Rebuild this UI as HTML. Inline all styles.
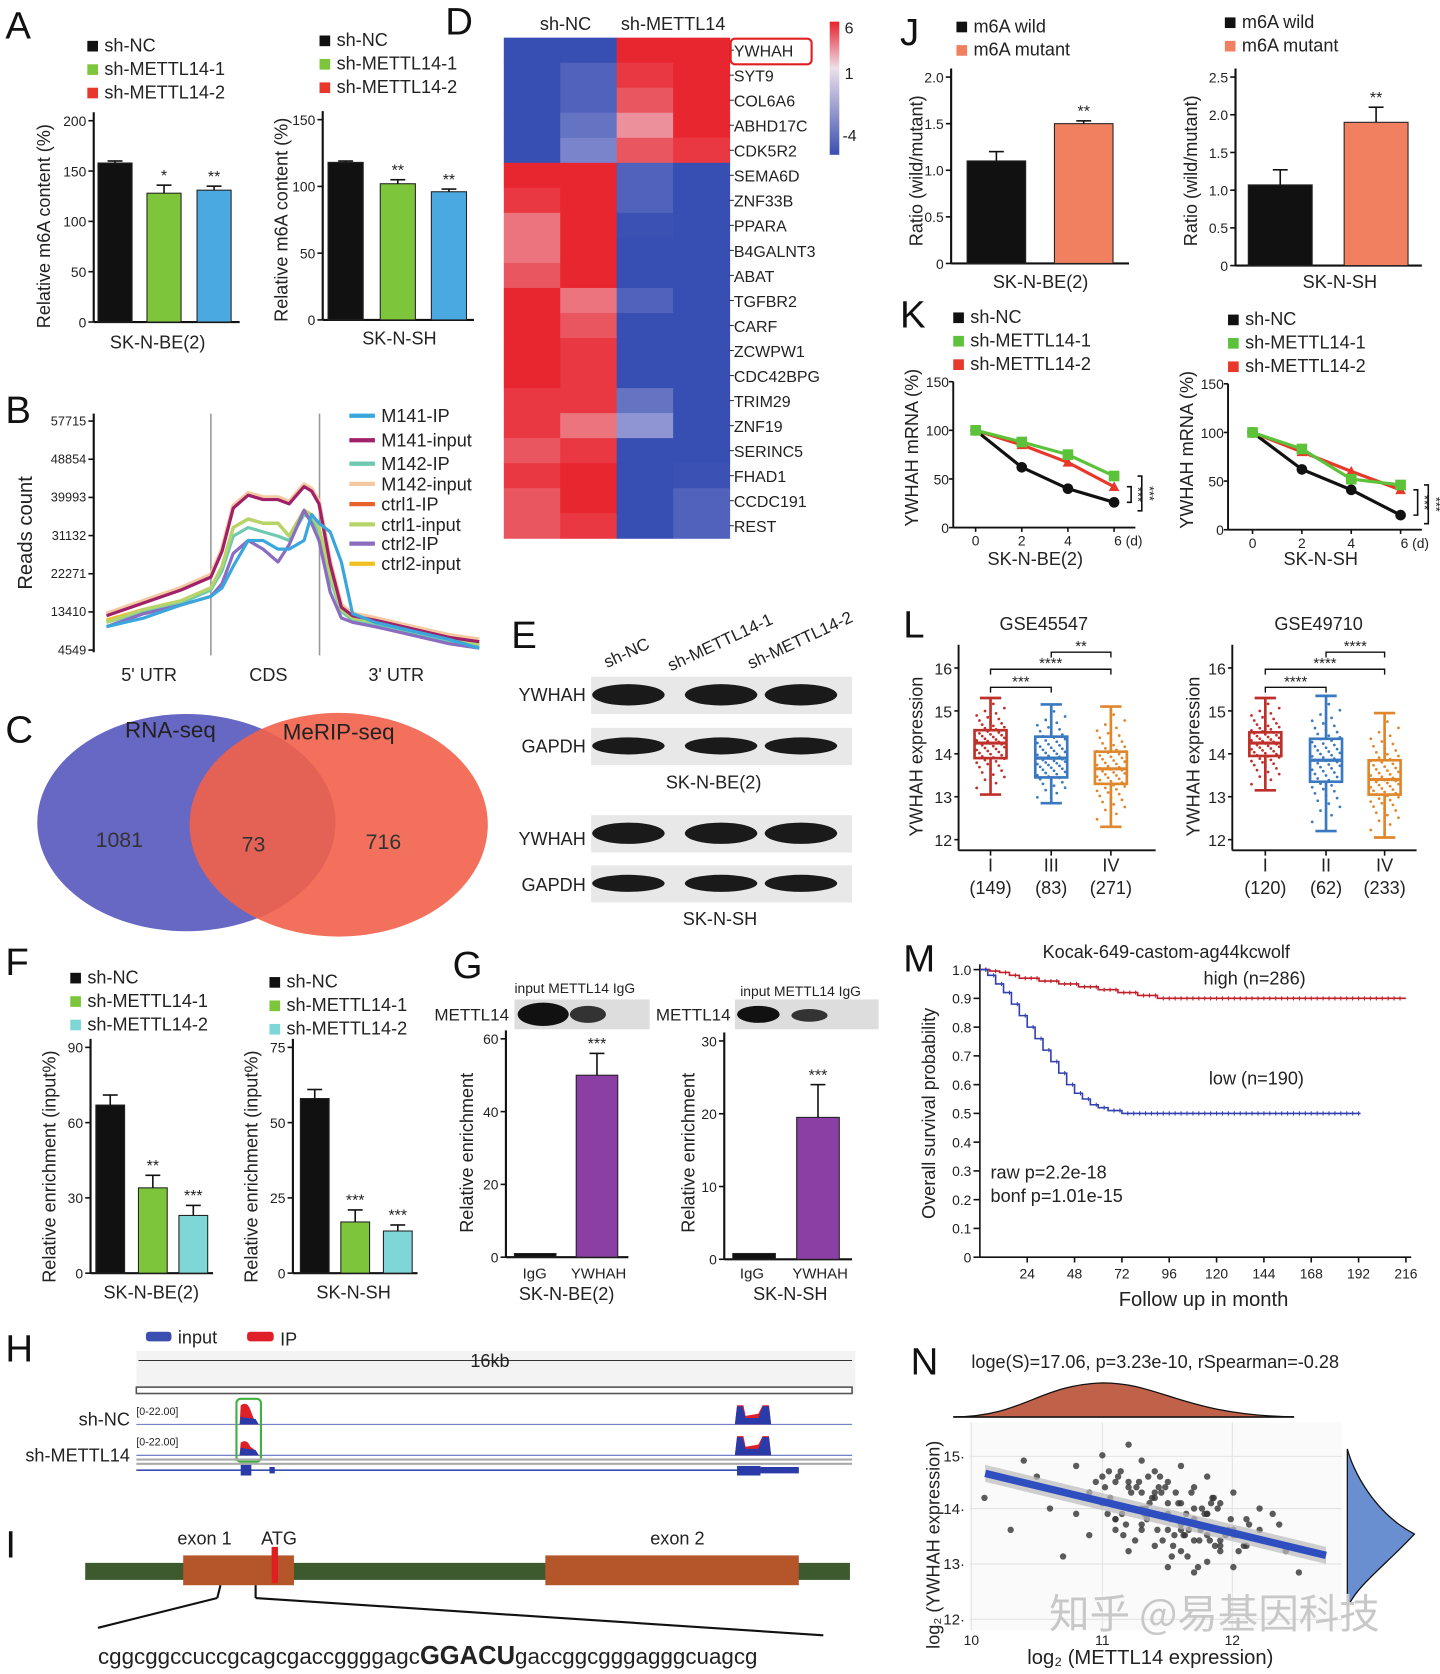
<!DOCTYPE html>
<html><head><meta charset="utf-8"><style>
html,body{margin:0;padding:0;background:#fff;}
svg{display:block;font-family:"Liberation Sans","Noto Sans CJK SC",sans-serif;}
</style></head><body>
<svg id="fig" width="1440" height="1674" viewBox="0 0 1352 1571" xmlns="http://www.w3.org/2000/svg"></svg>
<script>
// ---------------- DATA ----------------
const aCats=["sh-NC","sh-METTL14-1","sh-METTL14-2"];
const aBE=[158,128,131], aBEerr=[2,8,4];
const aSH=[118,102,96], aSHerr=[1,3,2];
const bPos=[0,10,20,28,31,34,38,42,46,49,53,55,57,60,63,66,72,82,92,100];
const bNames=["M141-IP","M141-input","M142-IP","M142-input","ctrl1-IP","ctrl1-input","ctrl2-IP","ctrl2-input"];
const bM141IP=[10,12,15,17,19,24,30,30,28,28,30,36,34,32,25,13,11,9,7,5];
const bM141in=[12.5,15.5,18.5,21.5,27.5,37.5,40.5,39.5,39.5,38.5,42.5,41.5,38.5,24.5,14.5,12.5,11.5,9.5,7.5,6.5];
const bM142IP=[11,13.5,15.5,18.5,23,31,33,32,31,30,36,35,32,21,13.5,11.5,10.5,8.5,6.5,5.5];
const bM142in=[13,16,19,22,28,38,41,40,40,39,43,42,39,25,15,13,12,10,8,7];
const bC1IP=[11.5,14,16,19,24,33,35,34,34,31,37,36,33,22,14,12,11,9,7,6];
const bC1in=[11,14,16,19,24,33,35,34,34,31,37,36,33,22,14,12,11,9,7,6];
const bC2IP=[10,13,15,17,20,27,30,28,25,29,37,34,30,18,12,11,10,8,6,5];
const bC2in=[11.5,14,16,19,24,33,35,34,34,31,37,36,33,22,14,12,11,9,7,6];
const bTicks=[4549,13410,22271,31132,39993,48854,57715];
const vennCounts=[1081,73,716];
const genes=["YWHAH","SYT9","COL6A6","ABHD17C","CDK5R2","SEMA6D","ZNF33B","PPARA","B4GALNT3","ABAT","TGFBR2","CARF","ZCWPW1","CDC42BPG","TRIM29","ZNF19","SERINC5","FHAD1","CCDC191","REST"];
const heat=[[-3.5,-3,4,4.5],[-3,-2,3.5,4],[-3,-2,3,4],[-3,-1.5,2,5],[-3,-1,3,3.5],[4,4,-2,-3],[3.5,4,-2,-3],[2.5,4,-2.5,-3],[2.5,4.5,-3,-3],[3,4,-3,-3],[4,2.5,-2,-3],[4,3,-3,-3],[4,3.5,-3,-3],[4,3.5,-3,-3],[3.5,3.5,-1.5,-3],[3.5,2.5,-0.5,-3],[3,3.5,-3,-3],[3.5,4,-3,-2.5],[3,4,-3,-2],[3,3.5,-3,-2]];
const fBE=[67,34,23], fBEerr=[4,5,4];
const fSH=[58,17,14], fSHerr=[3,4,2];
const gBE=[1,50], gBEerr=[0,6];
const gSH=[0.8,19.5], gSHerr=[0,4.5];
const jBE=[1.1,1.5], jBEerr=[0.1,0.03];
const jSH=[1.07,1.9], jSHerr=[0.2,0.2];
const kDays=[0,2,4,6];
const kBE_NC=[100,62,40,26], kBE_1=[100,88,75,53], kBE_2=[100,85,67,42];
const kSH_NC=[100,62,41,15], kSH_1=[100,83,52,46], kSH_2=[100,80,60,41];
const l1Groups=["I","III","IV"], l1N=["(149)","(83)","(271)"];
const l1Stats=[[13.05,13.9,14.25,14.55,15.3],[12.85,13.45,13.9,14.4,15.15],[12.3,13.3,13.65,14.05,15.1]];
const l2Groups=["I","II","IV"], l2N=["(120)","(62)","(233)"];
const l2Stats=[[13.15,13.95,14.25,14.5,15.3],[12.2,13.35,13.85,14.35,15.35],[12.05,13.05,13.4,13.85,14.95]];
const mHighT=[0,5,10,15,20,30,40,50,60,70,80,90,216];
const mHighS=[1,0.995,0.99,0.98,0.97,0.96,0.95,0.94,0.93,0.92,0.91,0.9,0.9];
const mLowT=[0,4,8,12,16,20,24,28,32,36,40,44,48,52,56,60,65,72,193];
const mLowS=[1,0.98,0.95,0.92,0.88,0.84,0.8,0.76,0.72,0.68,0.64,0.6,0.57,0.55,0.53,0.52,0.51,0.5,0.5];
const nX=[10.1,10.3,10.5,10.6,10.7,10.8,10.9,10.9,11.0,11.0,11.1,11.1,11.2,11.2,11.2,11.3,11.3,11.3,11.4,11.4,11.4,11.5,11.5,11.5,11.6,11.6,11.6,11.7,11.7,11.7,11.8,11.8,11.8,11.9,11.9,12.0,12.0,12.1,12.1,12.2,12.3,12.4,12.5,10.4,10.8,11.0,11.1,11.2,11.3,11.4,11.5,11.6,11.7,11.8,11.9,12.0,11.05,11.25,11.45,11.65,11.85,11.15,11.35,11.55,11.75,10.95,12.2,12.35,
 11.02,11.08,11.12,11.18,11.22,11.28,11.32,11.38,11.42,11.48,11.52,11.58,11.62,11.68,11.72,11.78,11.82,11.88,11.92,11.98,12.02,12.08,12.12,11.04,11.14,11.24,11.34,11.44,11.54,11.64,11.74,11.84,11.94,12.04,11.06,11.16,11.26,11.36,11.46,11.56,11.66,11.76,11.86,11.96,11.1,11.3,11.5,11.7,11.9,11.2,11.4,11.6,11.8,12.0,11.33,11.53,11.73,11.43,11.63,11.83];
const nY=[14.2,13.6,14.6,14.0,13.1,14.8,14.3,13.5,15.0,14.1,14.5,13.8,15.2,14.4,13.2,14.9,14.0,13.6,14.7,14.2,13.3,14.5,13.9,12.9,14.8,13.7,13.2,14.4,13.8,12.8,14.6,13.5,13.0,14.1,13.4,14.3,12.9,13.8,13.3,13.6,13.9,13.2,12.8,14.9,13.9,14.6,13.6,14.0,14.3,13.9,14.1,13.6,14.0,13.9,13.2,13.5,14.7,13.4,14.3,13.1,14.2,13.9,14.6,13.5,13.6,14.5,14.0,13.7,
 14.4,14.1,14.6,13.7,14.3,14.5,13.9,14.2,13.6,14.4,13.8,14.1,13.5,14.3,13.7,13.9,13.4,14.0,13.6,13.8,13.5,13.3,13.7,13.9,14.7,14.0,13.8,14.6,13.3,13.9,13.4,14.2,13.5,13.2,14.2,13.5,14.4,14.1,13.4,14.3,13.6,14.0,13.3,13.6,13.8,13.7,13.6,13.4,13.3,14.5,14.3,14.1,13.9,13.6,14.0,13.1,12.9,14.4,13.5,14.1];

// ---------------- HELPERS ----------------
const NS="http://www.w3.org/2000/svg";
const svg=document.getElementById('fig');
function mk(tag,attrs,name,parent){
  const e=document.createElementNS(NS,tag);
  for(const k in attrs) e.setAttribute(k,attrs[k]);
  
  
  (parent||svg).appendChild(e);
  return e;
}
function txt(x,y,s,size,name,opt){
  opt=opt||{};
  const a={x:x,y:y,'font-size':size,fill:opt.fill||'#222'};
  if(opt.anchor) a['text-anchor']=opt.anchor;
  if(opt.rot!==undefined) a.transform=`rotate(${opt.rot} ${x} ${y})`;
  if(opt.weight) a['font-weight']=opt.weight;
  if(opt.family) a['font-family']=opt.family;
  const e=mk('text',a,name,opt.parent);
  e.textContent=s;return e;
}
function line(x1,y1,x2,y2,name,stroke,w){return mk('line',{x1,y1,x2,y2,stroke:stroke||'#111','stroke-width':w||1.5},name);}
function rect(x,y,w,h,fill,name,extra){const a={x,y,width:w,height:h,fill};Object.assign(a,extra||{});return mk('rect',a,name);}
function letter(x,y,s){txt(x,y,s,36,'panel-label-'+s.toLowerCase(),{fill:'#111'});}
function legendSq(x,y,labels,colors,size,prefix){
  labels.forEach((l,i)=>{
    rect(x,y+i*22-10,10,10,colors[i],prefix+'-swatch-'+i);
    txt(x+16,y+i*22,l,size||17,prefix+'-label-'+i);
  });
}
function barChart(o){
  const yS=v=>o.y0-(v/o.max)*(o.y0-o.ytop);
  line(o.ax,o.ytop-8,o.ax,o.y0,o.name+'-y-axis','#111',2);
  line(o.ax,o.y0,o.xend,o.y0,o.name+'-x-axis','#111',2);
  o.ticks.forEach((t,i)=>{const y=yS(t);line(o.ax-5,y,o.ax,y,o.name+'-tick-'+i);txt(o.ax-7,y+5,o.tickFmt?o.tickFmt(t):String(t),13,o.name+'-tick-label-'+i,{anchor:'end'});});
  o.vals.forEach((v,i)=>{
    const x=o.xs[i];
    rect(x,yS(v),o.w,o.y0-yS(v),o.colors[i],o.name+'-bar-'+i,{stroke:'#222','stroke-width':1});
    const e=o.errs[i]; if(e>0){const cx=x+o.w/2;line(cx,yS(v),cx,yS(v+e),o.name+'-err-'+i,'#111',1.5);line(cx-7,yS(v+e),cx+7,yS(v+e),o.name+'-errcap-'+i,'#111',1.5);}
    if(o.stars&&o.stars[i]) txt(x+o.w/2,yS(v+e)-4,o.stars[i],15,o.name+'-sig-'+i,{anchor:'middle'});
  });
}

// ---------------- PANEL A ----------------
letter(5,36,'A');
legendSq(82,48,aCats,['#111','#7dc63b','#e8382b'],17,'a-legend-1');
legendSq(300,43,aCats,['#111','#7dc63b','#e8382b'],17,'a-legend-2');
barChart({name:'a-be2',ax:88,y0:302,ytop:113,max:200,xend:225,ticks:[0,50,100,150,200],vals:aBE,errs:aBEerr,colors:['#111','#7dc63b','#4aa9e0'],xs:[92,138,185],w:32,stars:['','*','**']});
txt(148,327,'SK-N-BE(2)',17,'a-be2-x-label',{anchor:'middle'});
txt(47,212,'Relative m6A content (%)',17,'a-be2-y-title',{anchor:'middle',rot:-90});
barChart({name:'a-sh',ax:303,y0:300,ytop:112,max:150,xend:445,ticks:[0,50,100,150],vals:aSH,errs:aSHerr,colors:['#111','#7dc63b','#4aa9e0'],xs:[308,357,405],w:33,stars:['','**','**']});
txt(375,323,'SK-N-SH',17,'a-sh-x-label',{anchor:'middle'});
txt(270,206,'Relative m6A content (%)',17,'a-sh-y-title',{anchor:'middle',rot:-90});

// ---------------- PANEL B ----------------
letter(5,397,'B');
(function(){
  const yB=v=>610-(v-4549)/(57715-4549)*215, xB=p=>100+p*3.5;
  line(88,388,88,612,'b-y-axis','#111',2);
  bTicks.forEach((t,i)=>{line(83,yB(t),88,yB(t),'b-tick-'+i);txt(81,yB(t)+4,String(t),12,'b-tick-label-'+i,{anchor:'end'});});
  line(198,388,198,615,'b-cds-start-line','#999',1.5);
  line(300,388,300,615,'b-cds-end-line','#999',1.5);
  txt(140,639,"5' UTR",17,'b-label-5utr',{anchor:'middle'});
  txt(252,639,'CDS',17,'b-label-cds',{anchor:'middle'});
  txt(372,639,"3' UTR",17,'b-label-3utr',{anchor:'middle'});
  txt(30,500,'Reads count',19,'b-y-title',{anchor:'middle',rot:-90});
  const series=[bM142in,bC1IP,bC2in,bM142IP,bC1in,bM141in,bC2IP,bM141IP];
  const sNames=["M142-input","ctrl1-IP","ctrl2-input","M142-IP","ctrl1-input","M141-input","ctrl2-IP","M141-IP"];
  const cols={"M141-IP":"#3aa6dd","M141-input":"#a0206a","M142-IP":"#6fc9b0","M142-input":"#f5c9a0","ctrl1-IP":"#e8622a","ctrl1-input":"#b5d56a","ctrl2-IP":"#8a6cc0","ctrl2-input":"#f0c020"};
  series.forEach((s,k)=>{
    const d=s.map((v,i)=>(i?'L':'M')+xB(bPos[i]).toFixed(1)+','+yB(v*1000).toFixed(1)).join('');
    mk('path',{d:d,fill:'none',stroke:cols[sNames[k]],'stroke-width':k==0?4:3,'stroke-linejoin':'round'},'b-line-'+sNames[k].toLowerCase());
  });
  const ly=[396,419,441,460,479,498,516,535];
  bNames.forEach((n,i)=>{line(328,ly[i]-6,352,ly[i]-6,'b-legend-swatch-'+i,cols[n],4);txt(358,ly[i],n,17,'b-legend-label-'+i);});
})();

// ---------------- PANEL C ----------------
letter(5,697,'C');
mk('ellipse',{cx:175,cy:772,rx:140,ry:102,fill:'#6767c4'},'c-venn-rna-seq');
mk('ellipse',{cx:318,cy:774,rx:140,ry:105,fill:'#f2604a','fill-opacity':0.9},'c-venn-merip-seq');
txt(160,692,'RNA-seq',21,'c-title-rna-seq',{anchor:'middle'});
txt(318,694,'MeRIP-seq',21,'c-title-merip-seq',{anchor:'middle'});
txt(112,795,String(vennCounts[0]),20,'c-count-rna-only',{anchor:'middle',fill:'#333'});
txt(238,799,String(vennCounts[1]),20,'c-count-overlap',{anchor:'middle',fill:'#333'});
txt(360,797,String(vennCounts[2]),20,'c-count-merip-only',{anchor:'middle',fill:'#333'});

// ---------------- PANEL D ----------------
letter(418,32,'D');
(function(){
  const x0=473,y0=35,cw=53,rh=23.5;
  function col(v){
    const lerp=(a,b,t)=>Math.round(a+(b-a)*t);
    let c;
    if(v>=1){const t=Math.min(1,(v-1)/2.8);c=[lerp(238,232,t),lerp(205,38,t),lerp(215,48,t)];}
    else{const t=Math.min(1,(1-v)/3.6);c=[lerp(205,55,t),lerp(200,78,t),lerp(235,178,t)];}
    return `rgb(${c[0]},${c[1]},${c[2]})`;
  }
  heat.forEach((row,r)=>row.forEach((v,c)=>{rect(x0+c*cw,y0+r*rh,cw+0.5,rh+0.5,col(v),'d-cell-'+genes[r].toLowerCase()+'-'+c);}));
  genes.forEach((g,r)=>{line(x0+4*cw,y0+r*rh+rh/2,x0+4*cw+4,y0+r*rh+rh/2,'d-gene-tick-'+r,'#333',1);txt(689,y0+r*rh+rh/2+6,g,15,'d-gene-label-'+g.toLowerCase());});
  rect(686,36,76,24,'none','d-highlight-ywhah',{stroke:'#e02020','stroke-width':2,rx:4});
  txt(531,28,'sh-NC',17,'d-col-header-nc',{anchor:'middle'});
  txt(632,28,'sh-METTL14',17,'d-col-header-mettl14',{anchor:'middle'});
  const g=mk('linearGradient',{id:'hg',x1:0,y1:0,x2:0,y2:1},'d-scale-gradient',mk('defs',{},'d-defs'));
  [['0','#e8202a'],['0.35','#ece0ea'],['1','#3a4fb0']].forEach((s,i)=>mk('stop',{offset:s[0],'stop-color':s[1]},'d-grad-stop-'+i,g));
  rect(779,20,9,125,'url(#hg)','d-color-scale');
  txt(793,31,'6',15,'d-scale-label-6');txt(793,74,'1',15,'d-scale-label-1');txt(791,132,'-4',15,'d-scale-label-neg4');
})();

// ---------------- PANEL E ----------------
letter(480,608,'E');
(function(){
  txt(570,627,'sh-NC',16,'e-lane-label-nc',{rot:-25});
  txt(630,630,'sh-METTL14-1',16,'e-lane-label-1',{rot:-25});
  txt(705,628,'sh-METTL14-2',16,'e-lane-label-2',{rot:-25});
  const rows=[['YWHAH',652,635],['GAPDH',700,683],['YWHAH',787,765],['GAPDH',830,812]];
  rows.forEach((r,i)=>{
    txt(550,r[1]+6,r[0],17,'e-blot-label-'+i,{anchor:'end'});
    rect(555,r[2],245,35,'#e8e8e8','e-blot-bg-'+i);
    [590,677,752].forEach((x,j)=>mk('ellipse',{cx:x,cy:r[2]+17,rx:34,ry:(i%2?8:10),fill:'#1a1a1a'},'e-band-'+i+'-'+j));
  });
  txt(670,740,'SK-N-BE(2)',17,'e-cell-label-be2',{anchor:'middle'});
  txt(676,868,'SK-N-SH',17,'e-cell-label-sh',{anchor:'middle'});
})();

// ---------------- PANEL F ----------------
letter(5,915,'F');
legendSq(66,923,aCats,['#111','#7dc63b','#7fd6d6'],17,'f-legend-1');
legendSq(253,927,aCats,['#111','#7dc63b','#7fd6d6'],17,'f-legend-2');
barChart({name:'f-be2',ax:85,y0:1195,ytop:983,max:90,xend:200,ticks:[0,30,60,90],vals:fBE,errs:fBEerr,colors:['#111','#7dc63b','#7fd6d6'],xs:[90,130,168],w:27,stars:['','**','***']});
txt(142,1219,'SK-N-BE(2)',17,'f-be2-x-label',{anchor:'middle'});
txt(52,1095,'Relative enrichment (input%)',17,'f-be2-y-title',{anchor:'middle',rot:-90});
barChart({name:'f-sh',ax:275,y0:1195,ytop:983,max:75,xend:392,ticks:[0,25,50,75],vals:fSH,errs:fSHerr,colors:['#111','#7dc63b','#7fd6d6'],xs:[282,320,360],w:27,stars:['','***','***']});
txt(332,1219,'SK-N-SH',17,'f-sh-x-label',{anchor:'middle'});
txt(242,1095,'Relative enrichment (input%)',17,'f-sh-y-title',{anchor:'middle',rot:-90});

// ---------------- PANEL G ----------------
letter(425,918,'G');
txt(483,932,'input  METTL14 IgG',13,'g-blot-header-1');
txt(695,935,'input  METTL14 IgG',13,'g-blot-header-2');
txt(478,958,'METTL14',16,'g-blot-label-1',{anchor:'end'});
txt(686,958,'METTL14',16,'g-blot-label-2',{anchor:'end'});
rect(483,938,127,28,'#ddd','g-blot-bg-1');rect(690,938,135,28,'#ddd','g-blot-bg-2');
mk('ellipse',{cx:510,cy:952,rx:24,ry:11,fill:'#111'},'g-band-input-1');
mk('ellipse',{cx:552,cy:952,rx:17,ry:8,fill:'#333'},'g-band-mettl14-1');
mk('ellipse',{cx:712,cy:952,rx:20,ry:8,fill:'#111'},'g-band-input-2');
mk('ellipse',{cx:760,cy:953,rx:17,ry:6,fill:'#333'},'g-band-mettl14-2');
barChart({name:'g-be2',ax:475,y0:1180,ytop:975,max:60,xend:590,ticks:[0,20,40,60],vals:gBE,errs:gBEerr,colors:['#111','#8b3fa5'],xs:[483,541],w:39,stars:['','***']});
txt(502,1200,'IgG',14,'g-be2-cat-igg',{anchor:'middle'});txt(562,1200,'YWHAH',14,'g-be2-cat-ywhah',{anchor:'middle'});
txt(532,1220,'SK-N-BE(2)',17,'g-be2-x-label',{anchor:'middle'});
txt(444,1082,'Relative enrichment',17,'g-be2-y-title',{anchor:'middle',rot:-90});
barChart({name:'g-sh',ax:680,y0:1182,ytop:977,max:30,xend:800,ticks:[0,10,20,30],vals:gSH,errs:gSHerr,colors:['#111','#8b3fa5'],xs:[688,748],w:40,stars:['','***']});
txt(706,1200,'IgG',14,'g-sh-cat-igg',{anchor:'middle'});txt(770,1200,'YWHAH',14,'g-sh-cat-ywhah',{anchor:'middle'});
txt(742,1220,'SK-N-SH',17,'g-sh-x-label',{anchor:'middle'});
txt(652,1082,'Relative enrichment',17,'g-sh-y-title',{anchor:'middle',rot:-90});

// ---------------- PANEL H ----------------
letter(5,1278,'H');
rect(137,1250,24,9,'#3a4fb0','h-legend-input-swatch',{rx:3});txt(167,1261,'input',17,'h-legend-input-label');
rect(232,1250,25,9,'#e02028','h-legend-ip-swatch',{rx:3});txt(263,1263,'IP',17,'h-legend-ip-label');
rect(128,1268,675,40,'#f3f3f3','h-track-header-bg');
line(130,1277,800,1277,'h-scale-line','#333',1);
txt(460,1283,'16kb',17,'h-scale-label',{anchor:'middle'});
rect(128,1302,672,6,'#fff','h-ruler',{stroke:'#555','stroke-width':1.5});
txt(122,1338,'sh-NC',17,'h-track-label-nc',{anchor:'end'});
txt(122,1372,'sh-METTL14',17,'h-track-label-mettl14',{anchor:'end'});
txt(128,1328,'[0-22.00]',10,'h-range-nc');txt(128,1357,'[0-22.00]',10,'h-range-mettl14');
line(128,1337,800,1337,'h-baseline-nc','#6070c0',1);line(128,1366,800,1366,'h-baseline-mettl14','#6070c0',1);
[[1337,18],[1366,12]].forEach((t,i)=>{
  mk('path',{d:`M225,${t[0]}L226,${t[0]-t[1]}Q232,${t[0]-t[1]-4} 235,${t[0]-t[1]+4}L238,${t[0]-6}L243,${t[0]}Z`,fill:'#e02028'},'h-peak-ip-exon1-'+i);
  mk('path',{d:`M225,${t[0]}L226,${t[0]-7}L240,${t[0]-5}L243,${t[0]}Z`,fill:'#2a3aa8'},'h-peak-input-exon1-'+i);
  mk('path',{d:`M690,${t[0]}L692,${t[0]-18}L698,${t[0]-18}L700,${t[0]-8}L712,${t[0]-10}L716,${t[0]-18}L722,${t[0]-18}L724,${t[0]}Z`,fill:'#e02028'},'h-peak-ip-exon2-'+i);
  mk('path',{d:`M690,${t[0]}L692,${t[0]-17}L697,${t[0]-17}L700,${t[0]-6}L712,${t[0]-6}L716,${t[0]-17}L722,${t[0]-17}L724,${t[0]}Z`,fill:'#2a3aa8'},'h-peak-input-exon2-'+i);
});
rect(222,1313,23,59,'none','h-highlight-box',{stroke:'#40b040','stroke-width':2,rx:4});
line(128,1370,800,1370,'h-sep-1','#aaa',2);line(128,1374,800,1374,'h-sep-2','#aaa',2);
line(128,1380,750,1380,'h-gene-intron','#3a4fb0',1.5);
rect(226,1375,10,10,'#2a3aa8','h-gene-exon1');rect(253,1377,5,6,'#2a3aa8','h-gene-small-exon');
rect(692,1376,22,9,'#2a3aa8','h-gene-exon2');rect(714,1377,36,6,'#2a3aa8','h-gene-utr');

// ---------------- PANEL I ----------------
letter(5,1462,'I');
rect(80,1467,718,16,'#3d5a2f','i-gene-bar');
rect(172,1460,104,28,'#b5562a','i-exon1');
rect(512,1460,238,28,'#b5562a','i-exon2');
rect(255,1452,6,34,'#e02020','i-atg-mark');
txt(192,1450,'exon 1',17,'i-exon1-label',{anchor:'middle'});
txt(262,1450,'ATG',17,'i-atg-label',{anchor:'middle'});
txt(636,1450,'exon 2',17,'i-exon2-label',{anchor:'middle'});
line(207,1488,204,1500,'i-zoom-line-a','#111',2);line(204,1500,92,1528,'i-zoom-line-b','#111',2);
line(240,1488,240,1500,'i-zoom-line-c','#111',2);line(240,1500,773,1535,'i-zoom-line-d','#111',2);
(function(){const t=txt(92,1562,'',21,'i-sequence');
  const a=document.createElementNS(NS,'tspan');a.textContent='cggcggccuccgcagcgaccggggagc';t.appendChild(a);
  const b=document.createElementNS(NS,'tspan');b.setAttribute('font-weight','bold');b.setAttribute('font-size','24');b.textContent='GGACU';t.appendChild(b);
  const c=document.createElementNS(NS,'tspan');c.textContent='gaccggcgggagggcuagcg';t.appendChild(c);})();

// ---------------- PANEL J ----------------
letter(845,42,'J');
legendSq(898,30,['m6A wild','m6A mutant'],['#111','#f08060'],17,'j-legend-1');
legendSq(1150,26,['m6A wild','m6A mutant'],['#111','#f08060'],17,'j-legend-2');
barChart({name:'j-be2',ax:893,y0:247,ytop:72,max:2,xend:1060,ticks:[0,0.5,1,1.5,2],tickFmt:t=>t===0?'0':t.toFixed(1),vals:jBE,errs:jBEerr,colors:['#111','#f08060'],xs:[908,990],w:55,stars:['','**']});
txt(977,270,'SK-N-BE(2)',17,'j-be2-x-label',{anchor:'middle'});
txt(866,160,'Ratio (wild/mutant)',17,'j-be2-y-title',{anchor:'middle',rot:-90});
barChart({name:'j-sh',ax:1160,y0:249,ytop:72,max:2.5,xend:1335,ticks:[0,0.5,1,1.5,2,2.5],tickFmt:t=>t===0?'0':t.toFixed(1),vals:jSH,errs:jSHerr,colors:['#111','#f08060'],xs:[1172,1262],w:60,stars:['','**']});
txt(1258,270,'SK-N-SH',17,'j-sh-x-label',{anchor:'middle'});
txt(1124,160,'Ratio (wild/mutant)',17,'j-sh-y-title',{anchor:'middle',rot:-90});

// ---------------- PANEL K ----------------
letter(845,307,'K');
legendSq(895,303,aCats,['#111','#5cc23a','#e8382b'],17,'k-legend-1');
legendSq(1153,305,aCats,['#111','#5cc23a','#e8382b'],17,'k-legend-2');
function lineChart(o){
  const yS=v=>o.y0-v/150*(o.y0-o.ytop), xS=d=>o.x0+d/6*(o.x6-o.x0);
  line(o.ax,o.ytop,o.ax,o.y0,o.name+'-y-axis','#111',1.8);
  line(o.ax,o.y0,o.x6+20,o.y0,o.name+'-x-axis','#111',1.8);
  [0,50,100,150].forEach((t,i)=>{line(o.ax-4,yS(t),o.ax,yS(t),o.name+'-ytick-'+i);txt(o.ax-4,yS(t)+5,String(t),13,o.name+'-ytick-label-'+i,{anchor:'end'});});
  kDays.forEach((d,i)=>{line(xS(d),o.y0,xS(d),o.y0+4,o.name+'-xtick-'+i);txt(xS(d),o.y0+17,i==3?'6 (d)':String(d),13,o.name+'-xtick-label-'+i,{anchor:i==3?'start':'middle'});});
  const ser=[[o.nc,'#111','nc'],[o.s2,'#e8382b','sh2'],[o.s1,'#5cc23a','sh1']];
  ser.forEach(s=>{
    mk('polyline',{points:s[0].map((v,i)=>xS(kDays[i])+','+yS(v)).join(' '),fill:'none',stroke:s[1],'stroke-width':3},o.name+'-line-'+s[2]);
    s[0].forEach((v,i)=>{
      if(s[2]=='nc') mk('circle',{cx:xS(kDays[i]),cy:yS(v),r:5,fill:s[1]},o.name+'-point-'+s[2]+'-'+i);
      else if(s[2]=='sh1') rect(xS(kDays[i])-5,yS(v)-5,10,10,s[1],o.name+'-point-'+s[2]+'-'+i);
      else mk('path',{d:`M${xS(kDays[i])-5},${yS(v)+4}L${xS(kDays[i])+5},${yS(v)+4}L${xS(kDays[i])},${yS(v)-5}Z`,fill:s[1]},o.name+'-point-'+s[2]+'-'+i);
    });
  });
  const xb=xS(6)+12;
  mk('polyline',{points:`${xb},${yS(o.s2[3])} ${xb+4},${yS(o.s2[3])} ${xb+4},${yS(o.nc[3])} ${xb},${yS(o.nc[3])}`,fill:'none',stroke:'#111','stroke-width':1.5},o.name+'-bracket-1');
  mk('polyline',{points:`${xb+10},${yS(o.s1[3])} ${xb+14},${yS(o.s1[3])} ${xb+14},${yS(o.nc[3])+8} ${xb+10},${yS(o.nc[3])+8}`,fill:'none',stroke:'#111','stroke-width':1.5},o.name+'-bracket-2');
  txt(xb+6,(yS(o.s2[3])+yS(o.nc[3]))/2,'***',12,o.name+'-sig-1',{rot:90,anchor:'middle'});
  txt(xb+17,(yS(o.s1[3])+yS(o.nc[3]))/2+4,'***',12,o.name+'-sig-2',{rot:90,anchor:'middle'});
}
lineChart({name:'k-be2',ax:895,y0:495,ytop:358,x0:916,x6:1046,nc:kBE_NC,s1:kBE_1,s2:kBE_2});
txt(972,530,'SK-N-BE(2)',17,'k-be2-x-label',{anchor:'middle'});
txt(862,420,'YWHAH mRNA (%)',17,'k-be2-y-title',{anchor:'middle',rot:-90});
lineChart({name:'k-sh',ax:1153,y0:497,ytop:360,x0:1176,x6:1315,nc:kSH_NC,s1:kSH_1,s2:kSH_2});
txt(1240,530,'SK-N-SH',17,'k-sh-x-label',{anchor:'middle'});
txt(1120,422,'YWHAH mRNA (%)',17,'k-sh-y-title',{anchor:'middle',rot:-90});

// ---------------- PANEL L ----------------
letter(848,598,'L');
function boxPlot(o){
  const yS=v=>788-(v-12)*40.3;
  line(o.ax,605,o.ax,798,o.name+'-y-axis','#111',1.8);
  line(o.ax,798,o.xend,798,o.name+'-x-axis','#111',1.8);
  [12,13,14,15,16].forEach((t,i)=>{line(o.ax-4,yS(t),o.ax,yS(t),o.name+'-ytick-'+i);txt(o.ax-6,yS(t)+6,String(t),15,o.name+'-ytick-label-'+i,{anchor:'end'});});
  const cols=['#c0302b','#3a78c0','#e0862c'];
  o.stats.forEach((s,i)=>{
    const x=o.xs[i],c=cols[i];
    line(x,yS(s[0]),x,yS(s[4]),o.name+'-whisker-'+i,c,2.5);
    line(x-10,yS(s[0]),x+10,yS(s[0]),o.name+'-whisker-low-cap-'+i,c,2.5);
    line(x-10,yS(s[4]),x+10,yS(s[4]),o.name+'-whisker-high-cap-'+i,c,2.5);
    rect(x-15,yS(s[3]),30,yS(s[1])-yS(s[3]),'#fff',o.name+'-box-'+i,{stroke:c,'stroke-width':2.5});
    for(let k=0;k<60;k++){
      const f=(k+0.5)/60, v=f<0.5? s[0]+(s[2]-s[0])*Math.sqrt(f*2): s[4]-(s[4]-s[2])*Math.sqrt((1-f)*2);
      const dx=((k*7)%11-5)*2.6;
      mk('circle',{cx:x+dx,cy:yS(v),r:1.3,fill:c},o.name+'-dot-'+i+'-'+k);
    }
    line(x-15,yS(s[2]),x+15,yS(s[2]),o.name+'-median-'+i,c,3);
    line(x,798,x,803,o.name+'-xtick-'+i);
    txt(x,818,o.groups[i],17,o.name+'-group-label-'+i,{anchor:'middle'});
    txt(x,839,o.ns[i],17,o.name+'-n-label-'+i,{anchor:'middle'});
  });
  o.sig.forEach((g,i)=>{
    const y=g[2];const a=o.xs[g[0]],b=o.xs[g[1]];
    mk('polyline',{points:`${a},${y+5} ${a},${y} ${b},${y} ${b},${y+5}`,fill:'none',stroke:'#111','stroke-width':1.3},o.name+'-sig-bracket-'+i);
    txt((a+b)/2,y-1,g[3],14,o.name+'-sig-label-'+i,{anchor:'middle'});
  });
}
txt(980,591,'GSE45547',17,'l1-title',{anchor:'middle'});
txt(1238,591,'GSE49710',17,'l2-title',{anchor:'middle'});
boxPlot({name:'l1',ax:900,xend:1085,xs:[930,987,1043],stats:l1Stats,groups:l1Groups,ns:l1N,sig:[[0,1,645,'***'],[0,2,628,'****'],[1,2,612,'**']]});
boxPlot({name:'l2',ax:1157,xend:1330,xs:[1188,1245,1300],stats:l2Stats,groups:l2Groups,ns:l2N,sig:[[0,1,645,'****'],[0,2,628,'****'],[1,2,612,'****']]});
txt(866,710,'YWHAH expression',17,'l1-y-title',{anchor:'middle',rot:-90});
txt(1126,710,'YWHAH expression',17,'l2-y-title',{anchor:'middle',rot:-90});

// ---------------- PANEL M ----------------
letter(848,912,'M');
(function(){
  const xS=t=>920+t/216*400, yS=s=>1180-s*270;
  txt(1095,899,'Kocak-649-castom-ag44kcwolf',17,'m-title',{anchor:'middle'});
  line(920,905,920,1180,'m-y-axis','#111',1.5);line(920,1180,1325,1180,'m-x-axis','#111',1.5);
  for(let i=0;i<=10;i++){const v=i/10;line(914,yS(v),920,yS(v),'m-ytick-'+i);txt(912,yS(v)+5,i==0?'0':v.toFixed(1),13,'m-ytick-label-'+i,{anchor:'end'});}
  for(let t=24;t<=216;t+=24){line(xS(t),1180,xS(t),1185,'m-xtick-'+t);txt(xS(t),1200,String(t),13,'m-xtick-label-'+t,{anchor:'middle'});}
  txt(1130,1226,'Follow up in month',19,'m-x-title',{anchor:'middle'});
  txt(878,1045,'Overall survival probability',17,'m-y-title',{anchor:'middle',rot:-90});
  function step(T,S,c,n){let d=`M${xS(T[0])},${yS(S[0])}`;for(let i=1;i<T.length;i++)d+=`H${xS(T[i])}V${yS(S[i])}`;
    mk('path',{d:d,fill:'none',stroke:c,'stroke-width':1.5},'m-curve-'+n);
    for(let i=0;i<T.length-1;i++){for(let t=T[i];t<T[i+1];t+=3){if(t>T[i]+1) line(xS(t),yS(S[i])-2,xS(t),yS(S[i])+2,'m-censor-'+n,c,1);}}}
  step(mHighT,mHighS,'#c0202a','high');
  step(mLowT,mLowS,'#3040b0','low');
  txt(1130,924,'high (n=286)',17,'m-label-high');
  txt(1135,1018,'low (n=190)',17,'m-label-low');
  txt(930,1106,'raw p=2.2e-18',17,'m-raw-p');
  txt(930,1128,'bonf p=1.01e-15',17,'m-bonf-p');
})();

// ---------------- PANEL N ----------------
letter(855,1290,'N');
(function(){
  const xS=v=>912+(v-10)*123, yS=v=>1416-(v-14)*50;
  txt(912,1284,'loge(S)=17.06,  p=3.23e-10, rSpearman=-0.28',17,'n-title');
  line(895,1330,1215,1330,'n-top-density-base','#111',1.5);
  mk('path',{d:'M895,1330C960,1330 975,1300 1035,1298C1090,1298 1110,1328 1215,1330Z',fill:'#c0614a',stroke:'#111','stroke-width':1.2},'n-top-density');
  rect(910,1335,350,195,'#fafafa','n-plot-bg');
  [1367,1416,1468,1520].forEach((y,i)=>line(910,y,1260,y,'n-grid-h-'+i,'#e3e3e3',1));
  [912,1035,1157].forEach((x,i)=>line(x,1335,x,1530,'n-grid-v-'+i,'#e3e3e3',1));
  const n=Math.min(nX.length,nY.length);
  for(let i=0;i<n;i++) mk('circle',{cx:xS(nX[i]),cy:yS(nY[i]),r:3,fill:'#333','fill-opacity':0.8},'n-point-'+i);
  mk('path',{d:'M925,1375L1245,1452L1245,1468L925,1391Z',fill:'#bbb','fill-opacity':0.7},'n-confidence-band');
  line(925,1383,1245,1460,'n-regression-line','#2f4fc0',7);
  mk('path',{d:'M1265,1360C1270,1380 1290,1420 1328,1440C1300,1470 1272,1490 1265,1510Z',fill:'#6a8fd0',stroke:'#111','stroke-width':1.2},'n-right-density');
  [[15,1367],[14,1416],[13,1468],[12,1520]].forEach((t,i)=>txt(906,t[1]+5,String(t[0])+'·',14,'n-ytick-label-'+i,{anchor:'end'}));
  [[10,912],[11,1035],[12,1157]].forEach((t,i)=>txt(t[1],1544,String(t[0]),13,'n-xtick-label-'+i,{anchor:'middle'}));
  txt(1080,1562,'log₂ (METTL14 expression)',19,'n-x-title',{anchor:'middle'});
  txt(882,1450,'log₂ (YWHAH expression)',17,'n-y-title',{anchor:'middle',rot:-90});
})();
txt(985,1528,'知乎 @易基因科技',38,'watermark',{fill:'#c8c8c8','family':'"Noto Sans CJK SC","WenQuanYi Zen Hei",sans-serif'});
</script>
</body></html>
